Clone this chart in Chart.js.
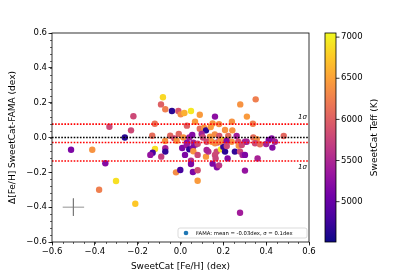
<!DOCTYPE html>
<html>
<head>
<meta charset="utf-8">
<script src="https://cdn.jsdelivr.net/npm/chart.js@4/dist/chart.umd.min.js"></script>
<style>
  body { margin: 0; background: #fff; }
  #wrap { width: 415px; height: 277px; }
</style>
</head>
<body>
<div id="wrap"><canvas id="chart" width="415" height="277"></canvas></div>
<script>
// SweetCat [Fe/H] vs difference SweetCat - FAMA, coloured by Teff
const feh = [
  -0.22, -0.332, -0.231, -0.26, -0.511, -0.412, -0.351, -0.301, -0.38, -0.211,
  -0.082, -0.091, -0.071, -0.04, -0.01, 0.001, 0.018, 0.049, 0.09, 0.161,
  -0.12, 0.068, 0.03, 0.09, 0.11, 0.15, 0.119, 0.141, 0.18, -0.132,
  -0.048, -0.008, -0.029, 0.013, 0.041, 0.055, 0.099, 0.138, 0.16, 0.181,
  0.197, -0.072, -0.018, 0.03, 0.06, 0.122, 0.172,
  0.351, 0.279, 0.31, 0.24, 0.338, 0.208, 0.242, 0.223, 0.262, 0.34,
  0.356, 0.482, 0.412, 0.426, 0.441, 0.301, 0.27,
  -0.119, -0.13, -0.141, -0.071, -0.071, -0.09, 0.008, 0.029, 0.041, 0.057,
  0.071, 0.08, 0.06, 0.021, 0.08, 0.049, 0.049, -0.021, -0.001, 0.058,
  0.08, 0.08, 0.119, 0.13, 0.15, 0.17, 0.18, 0.161, 0.169, 0.164,
  0.189, 0.208, 0.22, 0.2, 0.122, 0.254, 0.278, 0.29, 0.301, 0.36,
  0.301, 0.272, 0.286, 0.309, 0.348, 0.371, 0.4, 0.429, 0.278,
  0.146, 0.161, 0.184, 0.239, 0.105, 0.215, 0.216
];
const dFeh = [
  0.122, 0.062, 0.041, 0.0, -0.07, -0.07, -0.148, -0.25, -0.30, -0.38,
  0.231, 0.19, 0.162, 0.152, 0.152, 0.133, 0.141, 0.152, 0.131, 0.12,
  0.079, 0.091, 0.068, 0.05, 0.056, 0.081, 0.041, 0.06, 0.077, 0.01,
  0.01, 0.02, -0.005, 0.0, 0.0, 0.014, 0.02, 0.005, 0.018, 0.009,
  -0.014, -0.02, -0.018, -0.03, -0.03, -0.024, -0.028,
  0.219, 0.19, 0.12, 0.091, 0.079, 0.043, 0.041, 0.009, 0.009, 0.0,
  -0.01, 0.009, -0.014, -0.005, -0.024, -0.024, -0.024,
  -0.066, -0.087, -0.1, -0.062, -0.081, -0.11, -0.06, -0.043, -0.068, -0.06,
  -0.04, -0.036, -0.079, -0.1, -0.1, -0.133, -0.152, -0.2, -0.187, -0.198,
  -0.188, -0.248, -0.11, -0.081, -0.15, -0.171, -0.16, -0.1, -0.081, -0.12,
  -0.068, -0.081, -0.12, -0.053, -0.072, -0.081, -0.081, -0.1, -0.1, -0.12,
  -0.19, -0.047, -0.043, -0.024, -0.033, -0.039, -0.037, -0.058, -0.432,
  -0.024, -0.033, -0.024, -0.024, 0.0, -0.02, -0.049
];
const teff = [
  5800, 5800, 5800, 4650, 5150, 6400, 5200, 6900, 6250, 6750,
  6850, 6000, 6250, 4650, 5900, 6350, 6600, 6950, 6450, 5250,
  6150, 6450, 6000, 6100, 6400, 6400, 4650, 6450, 6350, 6100,
  6050, 6050, 5800, 6400, 5400, 5200, 5450, 6400, 6350, 5900,
  6700, 6400, 6400, 5200, 5450, 5850, 5450,
  6250, 6400, 6450, 6400, 6250, 6400, 6400, 6100, 5400, 6100,
  6350, 6050, 5150, 5200, 5450, 5450, 5850,
  6900, 4800, 5300, 5450, 4700, 5700, 5150, 5350, 4700, 5150,
  5200, 5800, 6400, 5150, 5800, 5550, 5150, 6350, 4800, 5150,
  5850, 6450, 6450, 5550, 5150, 5200, 5650, 5800, 5800, 5750,
  6950, 4650, 5200, 4700, 5450, 4700, 5800, 5450, 5150, 5450,
  5300, 6400, 5800, 5450, 5800, 6100, 5450, 5200, 5400,
  6400, 6350, 6350, 6400, 5800, 5200, 5800
];

// unrounded FAMA stats (legend shows rounded ones)
const famaMean = -0.029;
const famaSigma = 0.106;
const xTicks = [-0.6, -0.4, -0.2, 0.0, 0.2, 0.4, 0.6];
const yTicks = [-0.6, -0.4, -0.2, 0.0, 0.2, 0.4, 0.6];
const cbarTicks = [5000, 5500, 6000, 6500, 7000];
const teffMin = 4510, teffMax = 7050;
const legendText = 'FAMA: mean = -0.03dex, \u03c3 = 0.1dex';

// plasma colormap
const plasma = ['#0d0887', '#46039f', '#7201a8', '#9c179e', '#bd3786',
                '#d8576b', '#ed7953', '#fb9f3a', '#fdca26', '#f0f921'];

function hexRgb(h) {
  return [parseInt(h.substr(1, 2), 16), parseInt(h.substr(3, 2), 16), parseInt(h.substr(5, 2), 16)];
}

function plasmaColor(t) {
  t = Math.max(0, Math.min(1, t));
  const pos = t * (plasma.length - 1);
  const i = Math.min(Math.floor(pos), plasma.length - 2);
  const f = pos - i;
  const a = hexRgb(plasma[i]), b = hexRgb(plasma[i + 1]);
  const c = a.map((v, k) => Math.round(v + (b[k] - v) * f));
  return `rgb(${c[0]},${c[1]},${c[2]})`;
}

const font = "'DejaVu Sans', sans-serif";
const pts = feh.map((x, i) => ({ x: x, y: dFeh[i] }));
const colors = teff.map(t => plasmaColor((t - teffMin) / (teffMax - teffMin)));

function fmt(v) {
  if (Math.abs(v) < 1e-9) return '0.0';
  return v.toFixed(1).replace('-', '\u2212');
}

// frame, minor ticks, colorbar, legend, labels
const extras = {
  id: 'extras',
  afterDraw(chart) {
    const c = chart.ctx;
    const a = chart.chartArea;
    const xs = chart.scales.x, ys = chart.scales.y;
    c.save();
    c.strokeStyle = '#000';
    c.lineWidth = 0.8;
    c.strokeRect(a.left, a.top, a.right - a.left, a.bottom - a.top);

    // minor ticks
    c.beginPath();
    for (let v = -0.6; v <= 0.6001; v += 0.05) {
      const px = Math.round(xs.getPixelForValue(v)) + 0.5;
      c.moveTo(px, a.bottom); c.lineTo(px, a.bottom + 2);
    }
    for (let v = -0.6; v <= 0.6001; v += 0.04) {
      const py = Math.round(ys.getPixelForValue(v)) + 0.5;
      c.moveTo(a.left, py); c.lineTo(a.left - 2, py);
    }
    c.lineWidth = 0.6;
    c.stroke();

    // 1 sigma labels
    c.fillStyle = '#000';
    c.font = 'italic 7px ' + font;
    c.textAlign = 'right';
    c.textBaseline = 'bottom';
    c.fillText('1\u03c3', a.right - 2, ys.getPixelForValue(famaMean + famaSigma) - 3);
    c.textBaseline = 'top';
    c.fillText('1\u03c3', a.right - 2, ys.getPixelForValue(famaMean - famaSigma) + 3);

    // legend
    const lx = 178, ly = 228, lw = 129, lh = 10;
    c.beginPath();
    c.roundRect(lx, ly, lw, lh, 2);
    c.fillStyle = 'rgba(255,255,255,0.85)';
    c.fill();
    c.strokeStyle = '#ccc';
    c.lineWidth = 0.7;
    c.stroke();
    c.beginPath();
    c.arc(186, ly + lh / 2, 2.3, 0, Math.PI * 2);
    c.fillStyle = '#1f77b4';
    c.fill();
    c.fillStyle = '#000';
    c.font = '5.3px ' + font;
    c.textAlign = 'left';
    c.textBaseline = 'middle';
    c.fillText(legendText, 196, ly + lh / 2 + 0.3);

    // axis titles
    c.font = '9px ' + font;
    c.textAlign = 'center';
    c.textBaseline = 'middle';
    c.fillText('SweetCat [Fe/H] (dex)', (a.left + a.right) / 2, 267);
    c.save();
    c.translate(13, (a.top + a.bottom) / 2);
    c.rotate(-Math.PI / 2);
    c.fillText('\u0394[Fe/H] SweetCat-FAMA (dex)', 0, 0);
    c.restore();

    // colorbar
    const cx = 325, cw = 11, ct = a.top, cb = a.bottom;
    const g = c.createLinearGradient(0, cb, 0, ct);
    plasma.forEach((col, i) => g.addColorStop(i / (plasma.length - 1), col));
    c.fillStyle = g;
    c.fillRect(cx, ct, cw, cb - ct);
    c.strokeStyle = '#000';
    c.lineWidth = 0.8;
    c.strokeRect(cx, ct, cw, cb - ct);
    c.fillStyle = '#000';
    c.font = '8.5px ' + font;
    c.textAlign = 'left';
    c.textBaseline = 'middle';
    c.beginPath();
    cbarTicks.forEach(t => {
      const py = cb - (t - teffMin) / (teffMax - teffMin) * (cb - ct);
      c.moveTo(cx + cw, py); c.lineTo(cx + cw + 3.5, py);
      c.fillText(String(t), cx + cw + 5, py);
    });
    c.stroke();
    c.font = '9px ' + font;
    c.textAlign = 'center';
    c.save();
    c.translate(375, (ct + cb) / 2);
    c.rotate(-Math.PI / 2);
    c.fillText('SweetCat Teff (K)', 0, 0);
    c.restore();
    c.restore();
  }
};

function hline(y, color) {
  return {
    type: 'line',
    data: [{ x: -0.6, y: y }, { x: 0.6, y: y }],
    borderColor: color,
    borderWidth: 1.6,
    borderDash: [1.6, 1.5],
    pointRadius: 0,
    order: 0
  };
}

const ctx = document.getElementById('chart').getContext('2d');
const myChart = new Chart(ctx, {
  type: 'scatter',
  data: {
    datasets: [
      hline(0, '#000'),
      hline(famaMean, '#ff0000'),
      hline(famaMean + famaSigma, '#ff0000'),
      hline(famaMean - famaSigma, '#ff0000'),
      {
        type: 'line',
        data: [{ x: -0.55, y: -0.4 }, { x: -0.45, y: -0.4 }],
        borderColor: '#777', borderWidth: 0.8, pointRadius: 0, order: 0
      },
      {
        type: 'line',
        data: [{ x: -0.5, y: -0.35 }, { x: -0.5, y: -0.45 }],
        borderColor: '#777', borderWidth: 0.8, pointRadius: 0, order: 0
      },
      {
        label: legendText,
        data: pts,
        pointBackgroundColor: colors,
        pointBorderWidth: 0,
        pointRadius: 3.2,
        order: 1
      }
    ]
  },
  options: {
    responsive: false,
    animation: false,
    events: [],
    layout: { padding: { top: 33, right: 106, left: 0, bottom: 0 } },
    plugins: { legend: { display: false }, tooltip: { enabled: false } },
    scales: {
      x: {
        type: 'linear', min: -0.6, max: 0.6,
        afterFit: s => { s.height = 35; },
        afterBuildTicks: s => { s.ticks = xTicks.map(v => ({ value: v })); },
        grid: { drawOnChartArea: false, tickLength: 3.5, color: '#000', lineWidth: 0.8 },
        border: { display: false },
        ticks: { font: { family: font, size: 8.5 }, color: '#000', padding: 1, maxRotation: 0, callback: v => fmt(v) }
      },
      y: {
        type: 'linear', min: -0.6, max: 0.6,
        afterFit: s => { s.width = 52; },
        afterBuildTicks: s => { s.ticks = yTicks.map(v => ({ value: v })); },
        grid: { drawOnChartArea: false, tickLength: 3.5, color: '#000', lineWidth: 0.8 },
        border: { display: false },
        ticks: { font: { family: font, size: 8.5 }, color: '#000', padding: 1.5, callback: v => fmt(v) }
      }
    }
  },
  plugins: [extras]
});
</script>
</body>
</html>
